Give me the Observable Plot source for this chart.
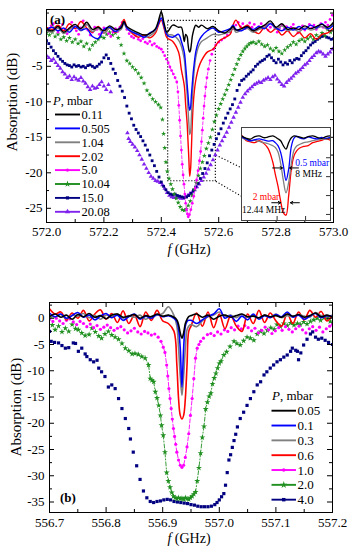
<!DOCTYPE html>
<html><head><meta charset="utf-8">
<script src="https://cdn.jsdelivr.net/npm/d3@7"></script>
<script src="https://cdn.jsdelivr.net/npm/@observablehq/plot@0.6"></script>
<style>
body{margin:0;background:#fff}
#fig{position:relative;width:356px;height:550px;font-family:"Liberation Serif",serif;background:#fff}
.pane{position:absolute;left:0}
.pane svg{overflow:visible}
</style></head><body><div id="fig"></div>
<script>
// ================= Panel (a) data =================
const pressA = ["0.11","0.505","1.04","2.02","5.0","10.04","15.0","20.08"];
const colA = ["#000000","#0000ff","#808080","#ff0000","#ff00ff","#1f8f1f","#000080","#7f22ee"];
const xMajA = [572.0,572.2,572.4,572.6,572.8,573.0];
const xMinA = [572.1,572.3,572.5,572.7,572.9];
const yMajA = [-25,-20,-15,-10,-5,0];
const yMinA = [-22.5,-17.5,-12.5,-7.5,-2.5,2.5];

const freqA = [572.00,572.02,572.04,572.06,572.08,572.10,572.12,572.14,572.16,572.18,572.20,572.22,572.24,572.26,572.27,572.28,572.30,572.32,572.34,572.36,572.38,572.39,572.40,572.41,572.42,572.44,572.46,572.47,572.48,572.485,572.49,572.493,572.496,572.499,572.502,572.505,572.508,572.511,572.515,572.52,572.53,572.54,572.56,572.58,572.60,572.62,572.64,572.65,572.66,572.68,572.70,572.72,572.74,572.76,572.78,572.80,572.82,572.84,572.86,572.88,572.90,572.92,572.94,572.96,572.98,573.00];
const blackA = [0.3,0.0,0.6,-0.2,0.4,0.9,0.3,1.2,0.2,0.5,0.0,0.7,0.2,0.4,1.3,0.6,0.1,-0.3,-0.6,-0.4,0.3,1.4,2.7,1.0,-0.2,0.8,0.5,0.5,-1.5,-0.5,-0.8,-1.8,-2.7,-3.0,-2.7,-1.8,-0.8,-0.2,0.4,0.8,0.5,0.8,0.3,0.6,0.0,-0.3,0.2,0.6,0.1,0.3,0.6,0.0,0.4,0.8,1.4,0.5,1.0,0.2,0.4,0.2,0.7,0.3,0.6,0.9,0.5,1.2];
const blueA = [0.2,0.5,0.0,0.4,-0.2,0.6,0.1,0.3,-0.8,-1.1,0.2,0.5,-0.1,0.6,1.2,0.4,-0.2,-0.5,-0.9,-0.3,0.2,1.0,1.8,0.6,-0.6,-0.9,-0.5,-1.5,-3.0,-5.0,-7.5,-9.0,-10.5,-11.2,-10.8,-9.0,-7.5,-6.0,-4.5,-3.0,-1.5,-0.8,0.0,0.4,-0.2,0.0,0.3,0.8,0.2,0.0,0.5,0.2,0.6,0.3,1.0,0.4,0.0,0.5,0.1,0.6,0.2,0.8,0.4,1.0,0.3,0.8];
const grayA = [0.1,-0.2,0.4,-0.4,0.2,0.6,0.0,0.9,-0.1,0.3,-0.3,0.4,-0.1,0.2,1.0,0.3,-0.2,-0.6,-0.9,-0.7,0.0,1.2,2.3,0.7,-0.5,-0.6,-1.3,-2.2,-4.0,-6.5,-9.0,-11.0,-13.0,-14.6,-14.2,-12.0,-9.5,-7.5,-5.5,-3.8,-2.2,-1.5,-1.0,-0.5,-0.6,-0.4,-0.1,0.4,-0.2,0.1,0.3,-0.2,0.2,0.5,1.1,0.2,0.7,0.0,0.2,-0.1,0.4,0.1,0.3,0.6,0.2,0.9];
const redA = [0.5,0.2,0.8,0.0,1.0,0.3,1.3,0.4,-0.2,0.6,-0.3,0.4,-0.2,0.8,1.6,0.5,-0.4,-0.9,-0.6,-1.0,-0.3,0.8,1.5,0.3,-1.0,-1.5,-3.0,-5.5,-7.7,-10.5,-13.0,-15.5,-18.0,-20.5,-19.5,-16.5,-13.0,-10.5,-8.5,-7.0,-5.2,-4.2,-3.0,-2.6,-1.5,-1.0,-0.5,0.8,1.5,0.4,0.8,0.0,-0.4,0.5,-0.2,0.3,-0.6,0.0,-0.8,-0.2,-1.0,-0.4,-1.2,-0.5,-0.3,0.4];

const mag5A = [[572.000,0.3],[572.008,0.0],[572.016,0.7],[572.024,1.0],[572.032,0.3],[572.040,-0.2],[572.048,0.4],[572.056,0.9],[572.064,0.2],[572.072,-0.4],[572.080,0.3],[572.088,1.2],[572.096,0.6],[572.104,0.0],[572.112,-0.5],[572.120,0.4],[572.128,1.4],[572.136,0.8],[572.144,0.1],[572.152,-0.6],[572.160,-0.2],[572.168,0.5],[572.176,0.2],[572.184,-0.5],[572.192,-0.3],[572.200,0.4],[572.208,0.1],[572.216,-0.4],[572.224,-0.8],[572.232,-0.2],[572.240,0.3],[572.248,-0.1],[572.256,0.5],[572.264,1.2],[572.272,1.0],[572.280,0.2],[572.288,-0.4],[572.296,-0.8],[572.304,-1.0],[572.312,-0.7],[572.320,-1.2],[572.328,-1.4],[572.336,-1.1],[572.344,-1.6],[572.352,-1.8],[572.360,-1.5],[572.368,-2.0],[572.376,-1.8],[572.384,-2.2],[572.392,-2.4],[572.400,-2.6],[572.406,-3.0],[572.412,-3.5],[572.418,-4.0],[572.424,-4.5],[572.430,-5.1],[572.436,-5.6],[572.442,-6.1],[572.448,-6.6],[572.454,-7.2],[572.458,-8.6],[572.461,-10.5],[572.464,-12.6],[572.467,-14.8],[572.470,-16.8],[572.473,-18.8],[572.476,-20.3],[572.479,-21.6],[572.482,-23.0],[572.485,-24.3],[572.488,-25.2],[572.491,-25.8],[572.494,-26.2],[572.498,-25.9],[572.503,-25.2],[572.508,-24.3],[572.513,-23.3],[572.518,-22.2],[572.523,-21.0],[572.528,-19.7],[572.533,-18.3],[572.537,-17.0],[572.540,-15.6],[572.543,-14.0],[572.546,-12.3],[572.549,-10.6],[572.552,-9.2],[572.555,-7.9],[572.559,-6.6],[572.564,-5.4],[572.570,-4.2],[572.576,-3.3],[572.582,-2.6],[572.590,-2.0],[572.600,-1.6],[572.610,-1.3],[572.620,-1.0],[572.630,-0.6],[572.640,-0.2],[572.650,0.3],[572.660,0.8],[572.668,1.2],[572.676,0.6],[572.684,1.0],[572.692,0.3],[572.700,0.7],[572.708,1.1],[572.716,0.5],[572.724,0.9],[572.732,0.2],[572.740,0.6],[572.748,1.0],[572.756,0.4],[572.764,0.8],[572.772,0.1],[572.780,0.5],[572.788,0.9],[572.796,0.3],[572.804,-0.2],[572.812,0.4],[572.820,0.8],[572.828,0.2],[572.836,0.6],[572.844,0.0],[572.852,0.5],[572.860,0.9],[572.868,0.3],[572.876,-0.3],[572.884,0.2],[572.892,0.7],[572.900,0.1],[572.908,0.5],[572.916,0.9],[572.924,0.4],[572.932,0.8],[572.940,0.2],[572.948,0.6],[572.956,1.0],[572.964,0.5],[572.972,1.2],[572.980,0.8],[572.988,1.6],[572.996,2.2]];

const green10A = [[572.00,-0.3],[572.01,-0.6],[572.02,-0.2],[572.03,-0.8],[572.04,-0.5],[572.05,-1.2],[572.06,-0.9],[572.07,-1.4],[572.08,-1.0],[572.09,-1.6],[572.10,-1.2],[572.11,-1.8],[572.12,-1.5],[572.13,-2.2],[572.14,-1.8],[572.15,-2.6],[572.16,-2.0],[572.17,-1.6],[572.18,-1.2],[572.19,-0.8],[572.20,-1.0],[572.21,-0.5],[572.22,-0.2],[572.23,-0.6],[572.24,-0.3],[572.25,-1.0],[572.26,-2.0],[572.27,-3.2],[572.28,-4.2],[572.29,-4.6],[572.30,-5.1],[572.31,-5.5],[572.32,-6.0],[572.33,-6.6],[572.34,-7.4],[572.35,-8.4],[572.36,-9.0],[572.37,-9.6],[572.38,-10.0],[572.39,-10.4],[572.398,-10.8],[572.404,-12.5],[572.408,-14.5],[572.412,-16.5],[572.416,-18.5],[572.421,-19.8],[572.427,-20.8],[572.433,-21.6],[572.439,-22.3],[572.445,-23.0],[572.452,-23.6],[572.459,-24.2],[572.466,-24.8],[572.473,-25.2],[572.480,-25.3],[572.487,-25.1],[572.494,-24.6],[572.501,-24.0],[572.508,-23.2],[572.515,-22.3],[572.522,-21.4],[572.529,-20.4],[572.536,-19.4],[572.543,-18.5],[572.550,-17.6],[572.557,-16.6],[572.564,-15.8],[572.571,-15.0],[572.578,-13.9],[572.585,-12.8],[572.592,-11.9],[572.600,-11.0],[572.607,-10.3],[572.614,-9.6],[572.621,-9.0],[572.628,-8.3],[572.635,-7.6],[572.642,-6.9],[572.649,-6.2],[572.656,-5.4],[572.663,-4.7],[572.670,-4.0],[572.677,-3.4],[572.684,-2.9],[572.691,-2.5],[572.698,-2.2],[572.705,-1.9],[572.712,-1.7],[572.72,-1.6],[572.73,-1.8],[572.74,-1.5],[572.75,-1.9],[572.76,-2.2],[572.77,-2.0],[572.78,-2.5],[572.79,-2.8],[572.80,-2.4],[572.81,-2.9],[572.82,-3.2],[572.83,-2.7],[572.84,-2.3],[572.85,-2.0],[572.86,-1.6],[572.87,-1.9],[572.88,-1.4],[572.89,-1.2],[572.90,-1.5],[572.91,-1.1],[572.92,-0.8],[572.93,-1.2],[572.94,-0.6],[572.95,-0.9],[572.96,-0.3],[572.97,-0.7],[572.98,0.2],[572.99,-0.2],[573.00,0.8]];

const navy15A = [[572.000,-1.4],[572.008,-1.8],[572.016,-2.3],[572.024,-2.8],[572.032,-3.2],[572.040,-3.6],[572.048,-4.0],[572.056,-4.3],[572.064,-4.6],[572.072,-4.8],[572.080,-4.9],[572.088,-5.1],[572.096,-4.8],[572.104,-5.0],[572.112,-4.9],[572.120,-5.1],[572.128,-5.0],[572.136,-5.2],[572.144,-4.9],[572.152,-4.8],[572.160,-5.0],[572.168,-5.2],[572.176,-5.0],[572.184,-4.7],[572.192,-4.4],[572.200,-3.8],[572.208,-3.4],[572.216,-3.9],[572.224,-4.6],[572.232,-5.4],[572.240,-6.0],[572.248,-7.0],[572.256,-7.8],[572.264,-8.5],[572.272,-9.4],[572.280,-10.6],[572.288,-11.6],[572.296,-12.4],[572.304,-13.3],[572.312,-13.9],[572.320,-14.4],[572.328,-14.9],[572.336,-15.5],[572.344,-16.1],[572.352,-16.8],[572.360,-17.5],[572.368,-18.3],[572.376,-19.0],[572.384,-19.8],[572.392,-20.6],[572.400,-21.3],[572.408,-21.9],[572.416,-22.4],[572.424,-22.8],[572.432,-23.0],[572.440,-23.1],[572.448,-23.0],[572.456,-23.2],[572.464,-23.3],[572.472,-23.4],[572.480,-23.5],[572.488,-23.4],[572.496,-23.2],[572.504,-22.9],[572.512,-22.5],[572.520,-22.0],[572.528,-21.5],[572.536,-20.8],[572.544,-20.1],[572.552,-19.4],[572.560,-18.6],[572.568,-17.6],[572.576,-16.8],[572.584,-16.0],[572.592,-15.2],[572.600,-14.5],[572.608,-13.8],[572.616,-13.0],[572.624,-12.3],[572.632,-11.6],[572.640,-11.0],[572.648,-10.4],[572.656,-9.6],[572.664,-8.4],[572.672,-7.6],[572.680,-7.0],[572.688,-6.8],[572.696,-6.4],[572.704,-6.1],[572.712,-5.8],[572.720,-5.5],[572.728,-5.0],[572.736,-4.7],[572.744,-4.4],[572.752,-4.2],[572.760,-4.0],[572.768,-3.6],[572.776,-3.4],[572.784,-3.8],[572.792,-4.2],[572.800,-4.5],[572.808,-4.0],[572.816,-4.4],[572.824,-4.8],[572.832,-4.5],[572.840,-4.7],[572.848,-4.2],[572.856,-4.5],[572.864,-4.1],[572.872,-3.9],[572.880,-4.0],[572.888,-3.5],[572.896,-3.1],[572.904,-2.8],[572.912,-2.4],[572.920,-2.0],[572.928,-1.7],[572.936,-1.5],[572.944,-1.2],[572.952,-1.0],[572.960,-0.8],[572.968,-0.7],[572.976,-0.9],[572.984,-1.0],[572.992,-1.2],[573.000,-1.1]];

const purple20A = [[572.000,-3.5],[572.008,-3.8],[572.016,-4.2],[572.024,-4.0],[572.032,-4.5],[572.040,-4.9],[572.048,-5.3],[572.056,-5.8],[572.064,-6.1],[572.072,-6.6],[572.080,-6.4],[572.088,-6.9],[572.096,-6.5],[572.104,-6.8],[572.112,-7.0],[572.120,-6.6],[572.128,-7.1],[572.136,-7.4],[572.144,-7.9],[572.152,-8.3],[572.160,-7.8],[572.168,-8.1],[572.176,-8.0],[572.184,-7.6],[572.192,-7.2],[572.200,-7.8],[572.208,-8.3],[572.216,-7.6],[572.224,-8.6],[572.282,-14.4],[572.286,-15.2],[572.292,-15.6],[572.300,-16.0],[572.308,-16.4],[572.316,-16.9],[572.324,-17.5],[572.332,-18.1],[572.340,-18.8],[572.348,-19.4],[572.356,-20.0],[572.364,-20.5],[572.372,-20.8],[572.380,-21.1],[572.388,-21.2],[572.396,-21.4],[572.404,-21.7],[572.412,-22.2],[572.420,-22.8],[572.428,-23.2],[572.436,-23.4],[572.444,-23.5],[572.452,-23.4],[572.460,-23.5],[572.468,-23.6],[572.476,-23.6],[572.484,-23.4],[572.492,-23.2],[572.500,-22.9],[572.508,-22.7],[572.516,-22.4],[572.524,-22.0],[572.532,-21.6],[572.540,-21.1],[572.548,-20.6],[572.556,-20.1],[572.564,-19.5],[572.572,-18.9],[572.580,-18.2],[572.588,-17.5],[572.596,-16.8],[572.604,-16.1],[572.612,-15.5],[572.620,-14.9],[572.628,-14.3],[572.636,-13.6],[572.644,-12.9],[572.652,-12.2],[572.660,-11.5],[572.668,-10.8],[572.676,-10.1],[572.684,-9.4],[572.692,-8.9],[572.700,-8.5],[572.708,-8.2],[572.716,-7.9],[572.724,-7.6],[572.732,-7.4],[572.740,-7.2],[572.748,-7.3],[572.756,-7.0],[572.764,-6.8],[572.772,-6.6],[572.780,-6.9],[572.788,-6.5],[572.796,-6.3],[572.804,-6.8],[572.812,-7.2],[572.820,-7.6],[572.828,-7.8],[572.836,-7.3],[572.844,-7.0],[572.852,-6.7],[572.860,-6.4],[572.868,-6.0],[572.876,-5.8],[572.884,-5.5],[572.892,-5.2],[572.900,-4.8],[572.908,-4.6],[572.916,-4.2],[572.924,-3.8],[572.932,-3.5],[572.940,-3.1],[572.948,-2.9],[572.956,-3.0],[572.964,-3.3],[572.972,-3.6],[572.980,-3.3],[572.988,-3.0],[572.996,-2.6]];

// zoom box and connectors (data coords of panel a)
const zoomBoxA = [{x1:572.424, x2:572.59, y1:1.4, y2:-21.2}];
const connA = [{x1:572.59, y1:-17.5, x2:572.679, y2:-19.3},{x1:572.59, y1:-21.2, x2:572.679, y2:-23.3}];

// inset data
const insetF = [572.45,572.455,572.46,572.465,572.47,572.475,572.48,572.485,572.488,572.491,572.494,572.497,572.5,572.503,572.506,572.509,572.512,572.515,572.52,572.525,572.53,572.535,572.54,572.545,572.55];
const insetRed = [1.0,-0.4,-0.8,-1.0,-0.5,-1.2,-2.6,-6.0,-9.4,-12.5,-16.5,-19.5,-20.2,-15.0,-8.0,-4.5,-3.2,-2.5,-2.0,-1.8,-1.0,-0.7,-0.4,0.0,-0.4];
const insetGray = [0.4,-0.2,-0.6,-0.4,-0.7,-1.0,-1.3,-1.8,-2.3,-3.5,-6.5,-11.0,-14.3,-11.5,-6.5,-3.0,-1.9,-1.5,-1.0,-0.8,-0.5,-0.3,-0.1,0.0,0.3];
const insetBlue = [0.5,0.0,-0.5,-0.2,0.0,-0.3,-0.6,-0.5,-1.0,-1.8,-3.6,-7.0,-11.0,-8.0,-2.0,0.2,0.7,0.3,0.0,0.5,0.2,0.0,0.4,0.1,0.4];
const insetBlack = [0.8,0.2,-0.1,0.6,0.8,0.3,0.5,0.8,0.5,0.0,-0.5,-1.8,-2.7,-1.0,0.3,0.8,0.6,0.5,0.2,0.6,0.8,0.4,0.1,0.6,0.8];
const insetArrows = [{x1:572.485,x2:572.496,y:-7.7},{x1:572.514,x2:572.504,y:-7.7},{x1:572.484,x2:572.494,y:-16.9},{x1:572.515,x2:572.505,y:-16.9}];
const insetLabels = [
  {x:572.5105, y:-6.3, text:"0.5 mbar", color:"#0000ff"},
  {x:572.5105, y:-9.4, text:"8 MHz", color:"#000000"},
  {x:572.4625, y:-15.5, text:"2 mbar", color:"#ff0000"},
  {x:572.4505, y:-18.9, text:"12.44 MHz", color:"#000000"}
];

// ================= Panel (b) data =================
const pressB = ["0.05","0.1","0.3","0.6","1.0","2.0","4.0"];
const colB = ["#000000","#0000ff","#808080","#ff0000","#ff00ff","#1f8f1f","#000080"];
const xMajB = [556.7,556.8,556.9,557.0,557.1,557.2];
const xMinB = [556.75,556.85,556.95,557.05,557.15];
const yMajB = [-35,-30,-25,-20,-15,-10,-5,0];
const yMinB = [-32.5,-27.5,-22.5,-17.5,-12.5,-7.5,-2.5,2.5];

const freqB = [556.70,556.71,556.72,556.73,556.74,556.75,556.76,556.77,556.78,556.79,556.80,556.81,556.82,556.83,556.84,556.85,556.86,556.87,556.88,556.89,556.90,556.91,556.92,556.925,556.928,556.931,556.934,556.937,556.94,556.943,556.946,556.95,556.96,556.97,556.98,556.99,557.00,557.01,557.02,557.03,557.04,557.05,557.06,557.07,557.08,557.09,557.10,557.11,557.12,557.13,557.14,557.15,557.16,557.17,557.18,557.19,557.20];
const blackB = [0.3,0.8,0.2,0.6,-0.2,0.7,0.3,0.9,0.2,0.5,-0.1,0.6,0.8,0.2,0.4,0.7,0.0,0.5,0.3,0.8,0.4,0.6,0.2,-0.3,-1.2,-2.8,-3.8,-2.8,-1.0,-0.2,0.3,0.5,0.8,0.2,0.6,-0.2,0.4,0.6,0.2,0.5,0.8,0.3,0.4,0.1,0.6,0.3,0.5,0.2,0.8,0.4,0.7,0.2,0.5,1.0,0.3,0.6,0.2];
const blueB = [1.0,0.3,0.8,0.0,0.5,1.1,0.2,0.6,-0.3,0.4,0.9,0.1,0.6,-0.4,0.3,0.8,-0.2,0.4,0.0,0.7,0.3,0.5,0.0,-0.6,-2.0,-5.7,-13.1,-5.7,-1.5,-0.6,-0.4,-0.4,-1.0,-0.3,0.4,0.8,1.8,0.0,0.5,-0.6,0.4,-0.3,0.8,-0.2,0.5,0.1,0.7,0.3,1.2,0.2,0.6,-0.2,0.4,0.9,0.1,0.5,0.3];
const grayB = [0.6,0.2,0.7,-0.1,0.6,0.4,0.9,0.1,0.5,-0.2,0.6,0.3,0.8,0.0,0.5,0.2,0.6,-0.2,0.4,0.6,0.9,2.2,0.5,-1.5,-5.7,-11.0,-14.7,-11.0,-5.7,-2.2,-1.5,-1.2,-1.6,-0.5,0.3,0.6,1.2,0.4,0.6,0.1,0.7,0.2,0.5,0.0,0.6,0.2,0.8,0.1,0.5,0.3,0.7,0.4,0.2,1.1,0.5,0.3,0.6];
const redB = [1.8,0.8,1.2,-0.3,1.0,0.0,1.5,-0.5,0.8,1.6,-0.2,0.9,-0.8,1.4,-1.0,0.6,-1.6,1.2,-0.4,1.5,-0.5,-1.0,-2.5,-8.9,-15.3,-18.5,-19.2,-18.5,-15.3,-8.9,-2.5,-1.5,1.0,-1.5,1.2,-1.8,0.8,-2.0,0.5,-1.5,-2.5,0.8,-1.0,1.5,-0.8,1.0,-0.5,-1.5,0.8,-1.0,1.2,-0.3,1.5,0.2,1.3,-0.5,0.6];

const mag1B = [[556.700,-0.2],[556.706,-0.6],[556.712,0.0],[556.718,-0.5],[556.724,-1.0],[556.730,-0.4],[556.736,-0.1],[556.742,-0.7],[556.748,-1.2],[556.754,-0.6],[556.760,-1.0],[556.766,-1.6],[556.772,-1.1],[556.778,-1.8],[556.784,-1.4],[556.790,-2.1],[556.796,-1.7],[556.802,-1.3],[556.808,-1.8],[556.814,-2.3],[556.820,-1.9],[556.826,-1.6],[556.832,-2.2],[556.838,-2.8],[556.844,-2.4],[556.850,-1.9],[556.856,-2.6],[556.862,-3.0],[556.868,-2.5],[556.874,-2.8],[556.880,-3.2],[556.886,-3.0],[556.892,-3.6],[556.897,-4.4],[556.901,-5.5],[556.904,-6.5],[556.907,-8.9],[556.909,-11.0],[556.911,-13.4],[556.913,-15.3],[556.915,-17.2],[556.917,-19.2],[556.919,-21.0],[556.921,-22.5],[556.923,-24.0],[556.925,-25.5],[556.928,-27.0],[556.931,-28.0],[556.934,-28.4],[556.937,-28.0],[556.940,-26.5],[556.943,-24.5],[556.946,-22.0],[556.949,-18.5],[556.952,-15.3],[556.955,-11.5],[556.958,-7.6],[556.961,-5.7],[556.964,-5.0],[556.967,-4.4],[556.972,-3.8],[556.979,-3.1],[556.985,-2.9],[556.991,-3.3],[556.997,-2.6],[557.003,-3.0],[557.009,-2.2],[557.015,-2.5],[557.021,-1.8],[557.027,-2.2],[557.033,-1.5],[557.039,-2.0],[557.045,-1.4],[557.051,-1.8],[557.057,-2.4],[557.063,-1.9],[557.069,-2.8],[557.075,-2.3],[557.081,-1.7],[557.087,-2.2],[557.093,-2.9],[557.099,-2.4],[557.105,-1.8],[557.111,-2.3],[557.117,-1.6],[557.123,-2.1],[557.129,-2.6],[557.135,-2.0],[557.141,-1.5],[557.147,-2.2],[557.153,-2.8],[557.159,-2.0],[557.165,-1.6],[557.171,-2.3],[557.177,-1.7],[557.183,-2.6],[557.189,-2.0],[557.195,-1.5],[557.200,-1.2]];

const green2B = [[556.700,0.0],[556.705,-1.3],[556.710,-2.2],[556.716,-1.5],[556.722,-2.6],[556.728,-1.9],[556.734,-2.5],[556.740,-1.2],[556.746,-2.0],[556.751,-2.2],[556.757,-2.8],[556.763,-3.3],[556.770,-3.1],[556.775,-1.9],[556.781,-2.6],[556.787,-3.4],[556.792,-3.8],[556.798,-3.0],[556.804,-2.5],[556.810,-3.2],[556.816,-3.6],[556.822,-4.0],[556.828,-4.8],[556.834,-5.7],[556.840,-6.2],[556.846,-6.8],[556.851,-6.7],[556.857,-6.9],[556.863,-7.3],[556.869,-7.6],[556.875,-8.9],[556.878,-11.5],[556.881,-11.8],[556.884,-12.1],[556.887,-14.0],[556.890,-15.2],[556.893,-16.6],[556.896,-18.5],[556.898,-20.4],[556.901,-22.3],[556.904,-25.5],[556.907,-29.4],[556.910,-31.0],[556.913,-32.2],[556.916,-33.2],[556.919,-33.9],[556.922,-34.2],[556.925,-34.4],[556.928,-34.2],[556.931,-34.4],[556.934,-34.3],[556.937,-34.5],[556.940,-34.2],[556.943,-34.4],[556.946,-34.5],[556.949,-34.2],[556.952,-33.9],[556.955,-33.5],[556.958,-33.1],[556.961,-31.0],[556.964,-28.5],[556.967,-25.7],[556.970,-22.7],[556.973,-20.6],[556.976,-17.3],[556.979,-16.0],[556.982,-14.9],[556.985,-14.3],[556.988,-12.5],[556.991,-11.4],[556.994,-10.5],[556.997,-9.5],[557.000,-8.6],[557.003,-8.2],[557.008,-7.0],[557.013,-6.4],[557.019,-5.4],[557.026,-4.4],[557.031,-4.8],[557.037,-5.1],[557.043,-4.3],[557.049,-3.6],[557.055,-3.8],[557.061,-4.2],[557.067,-3.0],[557.073,-2.5],[557.079,-2.9],[557.085,-2.3],[557.091,-1.8],[557.097,-2.1],[557.102,-1.2],[557.108,-1.6],[557.114,-1.0],[557.120,-1.4],[557.126,-0.9],[557.132,-1.3],[557.138,-1.0],[557.143,-1.2],[557.149,-0.7],[557.155,-1.1],[557.161,-0.6],[557.167,-0.3],[557.173,0.0],[557.179,-0.4],[557.185,0.1],[557.190,0.0],[557.196,-0.6],[557.200,-0.9]];

const navy4B = [[556.700,-2.5],[556.703,-4.4],[556.709,-4.6],[556.716,-4.7],[556.722,-5.2],[556.728,-5.7],[556.734,-5.6],[556.742,-4.7],[556.746,-4.8],[556.751,-6.3],[556.757,-5.7],[556.763,-6.8],[556.766,-7.3],[556.772,-7.9],[556.778,-8.3],[556.784,-8.0],[556.787,-9.5],[556.792,-10.2],[556.798,-11.1],[556.804,-13.1],[556.810,-12.7],[556.816,-13.4],[556.822,-15.3],[556.828,-17.2],[556.834,-19.1],[556.840,-21.0],[556.843,-23.0],[556.848,-25.5],[556.854,-28.1],[556.860,-30.7],[556.866,-32.9],[556.872,-34.2],[556.878,-34.9],[556.884,-35.1],[556.890,-34.9],[556.896,-34.8],[556.902,-34.6],[556.908,-34.5],[556.914,-34.6],[556.920,-34.9],[556.926,-35.0],[556.932,-35.1],[556.938,-35.2],[556.944,-35.3],[556.950,-35.5],[556.956,-35.6],[556.962,-35.8],[556.968,-35.9],[556.974,-35.9],[556.980,-35.9],[556.986,-35.8],[556.992,-35.5],[556.996,-35.1],[557.000,-34.6],[557.004,-34.0],[557.008,-33.4],[557.011,-31.8],[557.014,-29.4],[557.017,-27.0],[557.020,-26.0],[557.023,-24.6],[557.026,-23.3],[557.029,-22.1],[557.032,-20.7],[557.037,-19.1],[557.043,-17.9],[557.049,-16.6],[557.055,-15.3],[557.061,-14.0],[557.067,-12.7],[557.073,-12.1],[557.079,-10.8],[557.084,-10.2],[557.090,-9.5],[557.096,-8.9],[557.102,-8.3],[557.108,-7.9],[557.114,-7.4],[557.120,-7.0],[557.126,-6.3],[557.129,-5.7],[557.135,-6.1],[557.138,-6.3],[557.140,-7.9],[557.144,-6.6],[557.149,-5.1],[557.155,-4.0],[557.161,-3.0],[557.165,-2.6],[557.170,-3.6],[557.175,-4.0],[557.181,-3.8],[557.187,-4.2],[557.193,-4.6],[557.200,-5.0]];

// ================= helpers =================
const FONT = "Liberation Serif";
const W = 356;
const rows = (xs, ys) => xs.map((x, i) => ({x, y: ys[i]}));
const px = d => d[0], py = d => d[1];

function frameTicks(xMaj, xMin, yMaj, yMin, iw, ih, L = 5, l = 3) {
  const s = {stroke: "#000", strokeWidth: 1};
  return [
    Plot.tickX(xMaj, {x: d => d, insetTop: ih - L, ...s}),
    Plot.tickX(xMaj, {x: d => d, insetBottom: ih - L, ...s}),
    Plot.tickX(xMin, {x: d => d, insetTop: ih - l, ...s}),
    Plot.tickX(xMin, {x: d => d, insetBottom: ih - l, ...s}),
    Plot.tickY(yMaj, {y: d => d, insetRight: iw - L, ...s}),
    Plot.tickY(yMaj, {y: d => d, insetLeft: iw - L, ...s}),
    Plot.tickY(yMin, {y: d => d, insetRight: iw - l, ...s}),
    Plot.tickY(yMin, {y: d => d, insetLeft: iw - l, ...s})
  ];
}

function addLegend(svg, names, styles, o) {
  const g = d3.select(svg).append("g").attr("font-family", FONT).attr("font-size", o.fs)
    .attr("fill", "#000").attr("text-anchor", "start");
  const t = g.append("text").attr("x", o.tx).attr("y", o.ty).attr("dy", "0.35em");
  t.append("tspan").attr("font-style", "italic").text("P");
  t.append("tspan").text(", mbar");
  names.forEach((n, i) => {
    const y = o.y0 + i * o.dy, s = styles[i];
    g.append("line").attr("x1", o.lx1).attr("x2", o.lx2).attr("y1", y).attr("y2", y)
      .attr("stroke", s.color).attr("stroke-width", 1.9);
    if (s.symbol) g.append("path").attr("d", d3.symbol(s.symbol, s.size)())
      .attr("transform", `translate(${(o.lx1 + o.lx2) / 2},${y})`).attr("fill", s.color);
    g.append("text").attr("x", o.lx2 + 1.5).attr("y", y).attr("dy", "0.35em").text(n);
  });
}

function addText(svg, x, y, parts, o = {}) {
  const t = d3.select(svg).append("text").attr("font-family", FONT).attr("font-size", o.fs || 14)
    .attr("text-anchor", o.anchor || "middle").attr("fill", "#000")
    .attr("font-weight", o.bold ? "bold" : null);
  if (o.rotate) t.attr("transform", `translate(${x},${y}) rotate(-90)`); else t.attr("x", x).attr("y", y);
  if (o.len) t.attr("textLength", o.len).attr("lengthAdjust", "spacingAndGlyphs");
  parts.forEach(([s, it]) => t.append("tspan").attr("font-style", it ? "italic" : null).text(s));
}

const baseStyle = {fontFamily: FONT, fontSize: "13px", color: "#000", background: "transparent", overflow: "visible"};

// ================= Panel (a) =================
const mA = {t: 9, r: 23, b: 40, l: 46}, hA = 262;
const iwA = W - mA.l - mA.r, ihA = hA - mA.t - mA.b;
const plotA = Plot.plot({
  width: W, height: hA, marginTop: mA.t, marginRight: mA.r, marginBottom: mA.b, marginLeft: mA.l,
  x: {domain: [572, 573], label: null},
  y: {domain: [-27, 3], label: null},
  style: baseStyle,
  marks: [
    Plot.rect(zoomBoxA, {x1: "x1", x2: "x2", y1: "y1", y2: "y2", fill: "none", stroke: "#000", strokeWidth: 1.1, strokeDasharray: "1.2,1.8"}),
    Plot.link(connA, {x1: "x1", y1: "y1", x2: "x2", y2: "y2", stroke: "#000", strokeWidth: 1.1, strokeDasharray: "1.2,2"}),
    Plot.dot(purple20A, {x: px, y: py, symbol: "triangle", r: 1.7, fill: colA[7], clip: true}),
    Plot.dot(navy15A, {x: px, y: py, symbol: "square", r: 1.6, fill: colA[6], clip: true}),
    Plot.dot(green10A, {x: px, y: py, symbol: "star", r: 1.6, fill: colA[5], clip: true}),
    Plot.line(mag5A, {x: px, y: d => d[1] < -4 ? d[1] : NaN, stroke: colA[4], strokeWidth: 0.8, strokeDasharray: "3,2"}),
    Plot.dot(mag5A, {x: px, y: py, symbol: "circle", r: 1.4, fill: colA[4], clip: true}),
    Plot.line(rows(freqA, redA), {x: "x", y: "y", stroke: colA[3], strokeWidth: 1.4, curve: "catmull-rom", clip: true}),
    Plot.line(rows(freqA, grayA), {x: "x", y: "y", stroke: colA[2], strokeWidth: 1.4, curve: "catmull-rom", clip: true}),
    Plot.line(rows(freqA, blueA), {x: "x", y: "y", stroke: colA[1], strokeWidth: 1.4, curve: "catmull-rom", clip: true}),
    Plot.line(rows(freqA, blackA), {x: "x", y: "y", stroke: colA[0], strokeWidth: 1.4, curve: "catmull-rom", clip: true}),
    ...frameTicks(xMajA, xMinA, yMajA, yMinA, iwA, ihA),
    Plot.frame({stroke: "#000", strokeWidth: 1}),
    Plot.axisX({ticks: xMajA, tickSize: 0, tickPadding: 4, tickFormat: d => d.toFixed(1), label: null}),
    Plot.axisY({ticks: yMajA, tickSize: 0, tickPadding: 4, tickFormat: d => String(d), label: null})
  ]
});

const symA = [null, null, null, null, d3.symbolCircle, d3.symbolStar, d3.symbolSquare, d3.symbolTriangle];
const sizeA = [0, 0, 0, 0, 9, 14, 10, 12];
addLegend(plotA, pressA, colA.map((c, i) => ({color: c, symbol: symA[i], size: sizeA[i]})),
  {fs: 12.5, tx: 53, ty: 101, y0: 114.5, dy: 13.9, lx1: 55, lx2: 80});
addText(plotA, 50, 24, [["(a)", false]], {anchor: "start", bold: true, fs: 13});
addText(plotA, 189, 254, [["f", true], [" (GHz)", false]], {fs: 14});
addText(plotA, 17, 102, [["Absorption (dB)", false]], {fs: 15, rotate: true});

// ================= Inset =================
const insetPlot = Plot.plot({
  width: 89, height: 93, margin: 0,
  x: {domain: [572.45, 572.55], axis: null},
  y: {domain: [-21.6, 3], axis: null},
  style: {...baseStyle, background: "#fff"},
  marks: [
    Plot.line(rows(insetF, insetRed), {x: "x", y: "y", stroke: "#ff0000", strokeWidth: 1.3, curve: "catmull-rom", clip: true}),
    Plot.line(rows(insetF, insetGray), {x: "x", y: "y", stroke: "#808080", strokeWidth: 1.3, curve: "catmull-rom", clip: true}),
    Plot.line(rows(insetF, insetBlue), {x: "x", y: "y", stroke: "#0000ff", strokeWidth: 1.3, curve: "catmull-rom", clip: true}),
    Plot.line(rows(insetF, insetBlack), {x: "x", y: "y", stroke: "#000000", strokeWidth: 1.3, curve: "catmull-rom", clip: true}),
    Plot.tickY([0, -5, -10, -15, -20], {y: d => d, insetLeft: 85, stroke: "#333"}),
    Plot.tickX([572.49, 572.522], {x: d => d, insetTop: 89, stroke: "#333"}),
    Plot.arrow(insetArrows, {x1: "x1", x2: "x2", y1: "y", y2: "y", stroke: "#000", strokeWidth: 1, headLength: 4}),
    Plot.text(insetLabels, {x: "x", y: "y", text: "text", fill: d => d.color, textAnchor: "start", fontSize: 9.5}),
    Plot.frame({stroke: "#444", strokeWidth: 1})
  ]
});

// ================= Panel (b) =================
const mB = {t: 40, r: 24, b: 38, l: 49}, hB = 288;
const iwB = W - mB.l - mB.r, ihB = hB - mB.t - mB.b;
const plotB = Plot.plot({
  width: W, height: hB, marginTop: mB.t, marginRight: mB.r, marginBottom: mB.b, marginLeft: mB.l,
  x: {domain: [556.7, 557.2], label: null},
  y: {domain: [-37, 3], label: null},
  style: baseStyle,
  marks: [
    Plot.dot(navy4B, {x: px, y: py, symbol: "square", r: 1.8, fill: colB[6], clip: true}),
    Plot.line(green2B, {x: px, y: d => d[1] < -6 ? d[1] : NaN, stroke: colB[5], strokeWidth: 0.9, strokeDasharray: "4,2,1,2"}),
    Plot.dot(green2B, {x: px, y: py, symbol: "star", r: 1.9, fill: colB[5], clip: true}),
    Plot.line(mag1B, {x: px, y: d => d[1] < -4 ? d[1] : NaN, stroke: colB[4], strokeWidth: 0.9, strokeDasharray: "4,2"}),
    Plot.dot(mag1B, {x: px, y: py, symbol: "circle", r: 1.6, fill: colB[4], clip: true}),
    Plot.line(rows(freqB, redB), {x: "x", y: "y", stroke: colB[3], strokeWidth: 1.6, curve: "catmull-rom", clip: true}),
    Plot.line(rows(freqB, grayB), {x: "x", y: "y", stroke: colB[2], strokeWidth: 1.6, curve: "catmull-rom", clip: true}),
    Plot.line(rows(freqB, blueB), {x: "x", y: "y", stroke: colB[1], strokeWidth: 1.6, curve: "catmull-rom", clip: true}),
    Plot.line(rows(freqB, blackB), {x: "x", y: "y", stroke: colB[0], strokeWidth: 1.6, curve: "catmull-rom", clip: true}),
    ...frameTicks(xMajB, xMinB, yMajB, yMinB, iwB, ihB),
    Plot.frame({stroke: "#000", strokeWidth: 1}),
    Plot.axisX({ticks: xMajB, tickSize: 0, tickPadding: 5, tickFormat: d => d.toFixed(1), label: null}),
    Plot.axisY({ticks: yMajB, tickSize: 0, tickPadding: 5, tickFormat: d => String(d), label: null})
  ]
});
const symB = [null, null, null, null, d3.symbolCircle, d3.symbolStar, d3.symbolSquare];
const sizeB = [0, 0, 0, 0, 10, 16, 12];
addLegend(plotB, pressB, colB.map((c, i) => ({color: c, symbol: symB[i], size: sizeB[i]})),
  {fs: 13, tx: 272, ty: 133.5, y0: 148.7, dy: 14.83, lx1: 271.5, lx2: 296});
addText(plotB, 60, 240, [["(b)", false]], {anchor: "start", bold: true, fs: 13});
addText(plotB, 189, 281, [["f", true], [" (GHz)", false]], {fs: 14});
addText(plotB, 21, 145, [["Absorption (dB)", false]], {fs: 15, rotate: true});

// ================= assemble =================
const fig = document.getElementById("fig");
function place(el, left, top) {
  const d = document.createElement("div");
  d.className = "pane"; d.style.left = left + "px"; d.style.top = top + "px";
  d.appendChild(el); fig.appendChild(d);
}
place(plotA, 0, 0);
place(plotB, 0, 262);
place(insetPlot, 241, 127);
</script></body></html>
